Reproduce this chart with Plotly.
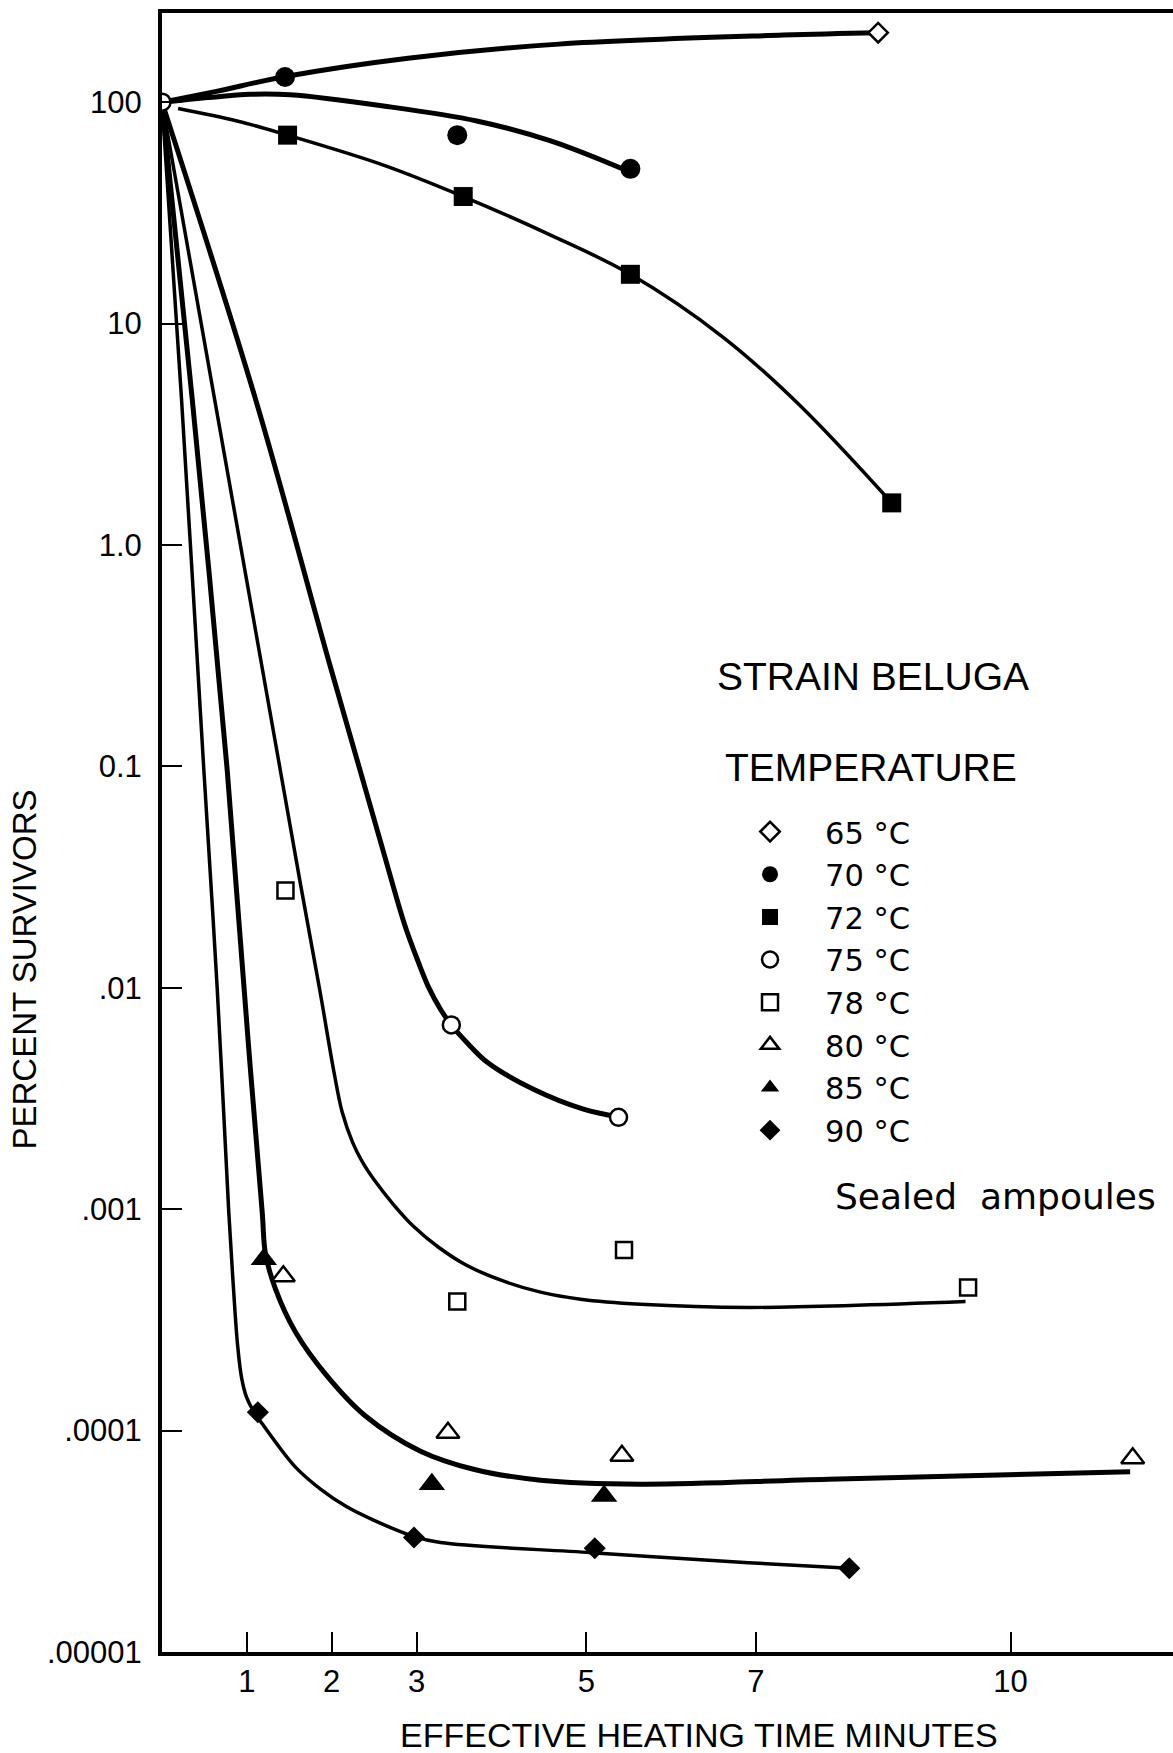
import plotly.graph_objects as go

# ---------------- data ----------------
x_ticks = [1, 2, 3, 5, 7, 10]
x_ticktext = ["1", "2", "3", "5", "7", "10"]
y_ticks = [100, 10, 1, 0.1, 0.01, 0.001, 0.0001, 0.00001]
y_ticktext = ["100", "10", "1.0", "0.1", ".01", ".001", ".0001", ".00001"]

# measured survivors (markers)
x65 = [8.44]
y65 = [206]
x70 = [1.45, 3.48, 5.52]
y70 = [130, 71, 50]
x72 = [1.48, 3.55, 5.52, 8.60]
y72 = [71, 37.5, 16.7, 1.55]
x75 = [0, 3.41, 5.38]
y75 = [100, 0.0068, 0.0026]
x78 = [1.455, 3.48, 5.445, 9.50]
y78 = [0.0275, 0.000383, 0.000655, 0.000443]
x80 = [1.43, 3.37, 5.42, 11.44]
y80 = [0.000498, 0.0000977, 0.0000769, 0.0000750]
x85 = [1.20, 3.18, 5.21]
y85 = [0.000594, 0.0000573, 0.0000507]
x90 = [1.13, 2.97, 5.10, 8.10]
y90 = [0.000121, 0.0000329, 0.0000294, 0.0000239]

# hand-drawn survivor curves
fit65_x = [0, 0.64, 1.455, 2.9, 4.68, 7.32, 8.44]
fit65_y = [100, 112, 130.6, 158, 183, 201, 206]
fit70_x = [0, 0.55, 1.04, 1.51, 2.61, 3.71, 4.58, 5.44]
fit70_y = [100, 105, 108.6, 108, 96.2, 82.3, 66.9, 49.8]
fit72_x = [0.19, 0.885, 1.48, 2.61, 3.55, 4.58, 5.52, 6.61, 7.51, 8.60]
fit72_y = [93.7, 82.3, 71, 52.0, 37.5, 25.1, 16.7, 8.7, 4.3, 1.55]
fit75_x = [0, 1.102, 1.986, 2.587, 2.858, 2.999, 3.141, 3.282, 3.41, 3.612,
           3.833, 4.378, 4.967, 5.384]
fit75_y = [100, 4.56, 0.2805, 0.0441, 0.01936, 0.01374, 0.01007, 0.0080, 0.00679,
           0.00556, 0.00461, 0.00348, 0.00283, 0.00261]
fit78_x = [0, 1.632, 1.868, 2.025, 2.124, 2.245, 2.363, 2.504, 2.728, 2.976,
           3.259, 3.589, 4.060, 4.461, 4.932, 5.639, 6.923, 9.470]
fit78_y = [100, 0.0294, 0.00935, 0.0042, 0.00274, 0.00201, 0.00163, 0.00135,
           0.00105, 0.000828, 0.000673, 0.000558, 0.000468, 0.000422, 0.000392,
           0.000372, 0.000360, 0.000383]
fit8085_x = [0, 0.356, 0.768, 1.023, 1.181, 1.22, 1.338, 1.573, 1.927, 2.398,
             3.047, 3.671, 4.461, 5.639, 7.855, 11.41]
fit8085_y = [100, 4.56, 0.0966, 0.00528, 0.00097, 0.000627, 0.000436, 0.000279,
             0.00018, 0.0001164, 0.0000807, 0.0000669, 0.0000597, 0.0000573,
             0.0000603, 0.0000652]
fit90_x = [0, 0.230, 0.493, 0.651, 0.787, 0.843, 0.890, 0.937, 0.996, 1.078,
           1.184, 1.338, 1.573, 1.868, 2.163, 2.493, 2.964, 3.282, 5.062, 6.912,
           8.103]
fit90_y = [100, 4.56, 0.0966, 0.00986, 0.00097, 0.000436, 0.000245, 0.000174,
           0.0001416, 0.0001225, 0.0001070, 0.0000887, 0.0000684, 0.0000544,
           0.0000456, 0.0000394, 0.0000333, 0.0000312, 0.0000281, 0.0000253,
           0.0000239]

FONT = "Liberation Sans, Arial, sans-serif"
LEGFONT = "DejaVu Sans, Liberation Sans, sans-serif"
THICK = 5
THIN = 3.5

fig = go.Figure()

curves = [
    (fit65_x, fit65_y, THICK),
    (fit70_x, fit70_y, THICK),
    (fit72_x, fit72_y, THIN),
    (fit75_x, fit75_y, THICK),
    (fit78_x, fit78_y, THIN),
    (fit8085_x, fit8085_y, THICK),
    (fit90_x, fit90_y, THIN),
]
for cx, cy, w in curves:
    fig.add_trace(go.Scatter(
        x=cx, y=cy, mode="lines", showlegend=False, hoverinfo="skip",
        line=dict(color="black", width=w, shape="spline", smoothing=1.0),
    ))

series = [
    ("65 °C", x65, y65, "diamond", "white", 15),
    ("70 °C", x70, y70, "circle", "black", 20),
    ("72 °C", x72, y72, "square", "black", 19),
    ("75 °C", x75, y75, "circle", "white", 17),
    ("78 °C", x78, y78, "square", "white", 16),
    ("80 °C", x80, y80, "triangle-up", "white", 20),
    ("85 °C", x85, y85, "triangle-up", "black", 23),
    ("90 °C", x90, y90, "diamond", "black", 17),
]
for name, sx, sy, sym, fill, size in series:
    fig.add_trace(go.Scatter(
        x=sx, y=sy, mode="markers", name=name,
        marker=dict(symbol=sym, color=fill, size=size,
                    line=dict(color="black", width=2.5 if fill == "white" else 0)),
    ))

fig.update_layout(
    width=1173, height=1753,
    margin=dict(l=162, r=0, t=13, b=101),
    paper_bgcolor="white", plot_bgcolor="white",
    font=dict(family=FONT, color="black"),
    showlegend=True,
    legend=dict(
        x=0.547, y=0.5166, xanchor="left", yanchor="top",
        bgcolor="rgba(0,0,0,0)", borderwidth=0,
        font=dict(family=LEGFONT, size=30.5, color="black"),
        itemwidth=100, itemsizing="trace",
    ),
    xaxis=dict(
        range=[0, 11.915], tickmode="array", tickvals=x_ticks, ticktext=x_ticktext,
        ticks="inside", ticklen=20, tickwidth=2, tickcolor="black",
        showline=True, linewidth=4, linecolor="black", mirror=True,
        showgrid=False, zeroline=False,
        tickfont=dict(family=FONT, size=31, color="black"),
        ticklabelstandoff=-1,
    ),
    yaxis=dict(
        type="log", range=[-5, 2.403], tickmode="array", tickvals=y_ticks,
        ticktext=y_ticktext,
        ticks="inside", ticklen=20, tickwidth=2, tickcolor="black",
        showline=True, linewidth=4, linecolor="black", mirror=False,
        showgrid=False, zeroline=False,
        tickfont=dict(family=FONT, size=31, color="black"),
        ticklabelstandoff=10,
    ),
    annotations=[
        dict(text="EFFECTIVE HEATING TIME MINUTES", xref="paper", yref="paper",
             x=0.5312, y=-0.0506, xanchor="center", yanchor="middle",
             showarrow=False, font=dict(family=FONT, size=34)),
        dict(text="PERCENT SURVIVORS", xref="paper", yref="paper",
             x=-0.136, y=0.4161, xanchor="center", yanchor="middle",
             textangle=-90, showarrow=False, font=dict(family=FONT, size=33)),
        dict(text="STRAIN BELUGA", xref="paper", yref="paper",
             x=0.547, y=0.5949, xanchor="left", yanchor="middle",
             showarrow=False, font=dict(family=FONT, size=39)),
        dict(text="TEMPERATURE", xref="paper", yref="paper",
             x=0.5549, y=0.5394, xanchor="left", yanchor="middle",
             showarrow=False, font=dict(family=FONT, size=39)),
        dict(text="Sealed  ampoules", xref="paper", yref="paper",
             x=0.6637, y=0.2782, xanchor="left", yanchor="middle",
             showarrow=False, font=dict(family=LEGFONT, size=36)),
    ],
)

fig.write_html("out.html")
